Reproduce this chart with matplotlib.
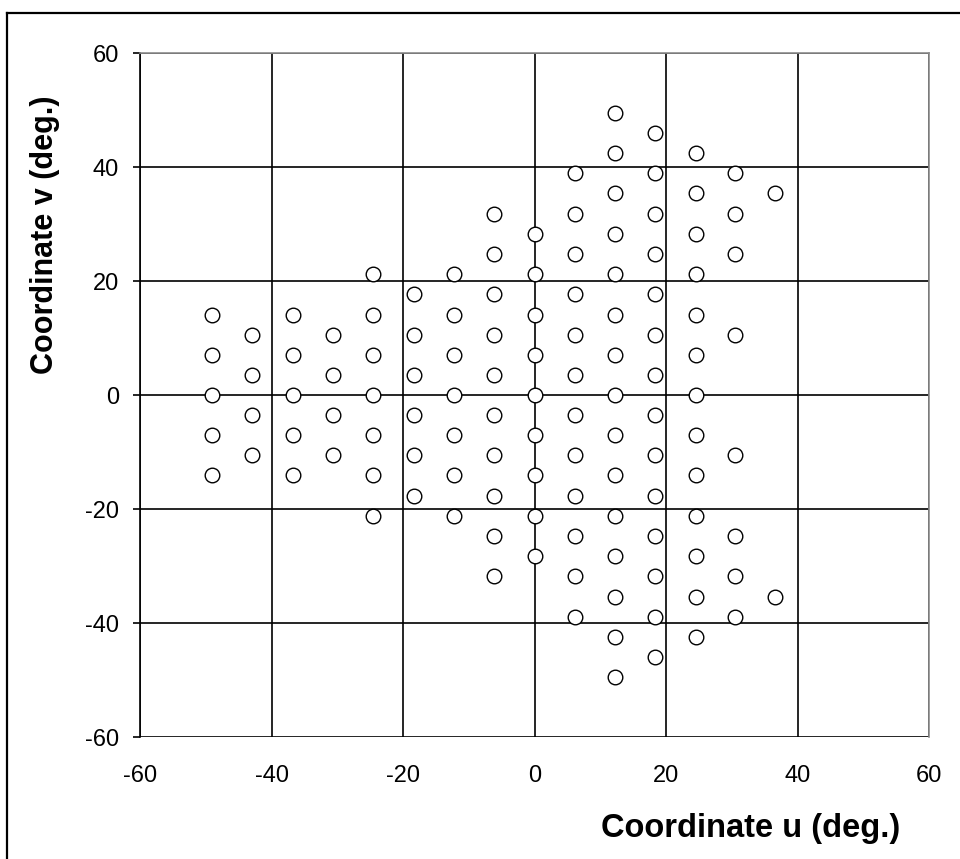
import matplotlib
matplotlib.use("Agg")
import matplotlib.pyplot as plt
from matplotlib.lines import Line2D

plt.rcParams['font.family'] = ['Liberation Sans', 'DejaVu Sans']
plt.rcParams['axes.unicode_minus'] = False

# u position of each column of sampling points, and the v values in that column
u_cols = [-49.0, -42.9, -36.8, -30.6, -24.5, -18.4, -12.3, -6.1,
          0.0, 6.1, 12.3, 18.4, 24.5, 30.5, 36.6]
v_cols = [
    [14.1, 7.1, 0.0, -7.1, -14.1],
    [10.6, 3.5, -3.5, -10.6],
    [14.1, 7.1, 0.0, -7.1, -14.1],
    [10.6, 3.5, -3.5, -10.6],
    [21.2, 14.1, 7.1, 0.0, -7.1, -14.1, -21.2],
    [17.7, 10.6, 3.5, -3.5, -10.6, -17.7],
    [21.2, 14.1, 7.1, 0.0, -7.1, -14.1, -21.2],
    [31.8, 24.7, 17.7, 10.6, 3.5, -3.5, -10.6, -17.7, -24.7, -31.8],
    [28.3, 21.2, 14.1, 7.1, 0.0, -7.1, -14.1, -21.2, -28.3],
    [38.9, 31.8, 24.7, 17.7, 10.6, 3.5, -3.5, -10.6, -17.7, -24.7, -31.8, -38.9],
    [49.5, 42.4, 35.4, 28.3, 21.2, 14.1, 7.1, 0.0, -7.1, -14.1, -21.2, -28.3,
     -35.4, -42.4, -49.5],
    [46.0, 38.9, 31.8, 24.7, 17.7, 10.6, 3.5, -3.5, -10.6, -17.7, -24.7, -31.8,
     -38.9, -46.0],
    [42.4, 35.4, 28.3, 21.2, 14.1, 7.1, 0.0, -7.1, -14.1, -21.2, -28.3, -35.4,
     -42.4],
    [38.9, 31.8, 24.7, 10.6, -10.6, -24.7, -31.8, -38.9],
    [35.4, -35.4],
]
ticks = [-60, -40, -20, 0, 20, 40, 60]

u = [uc for uc, vs in zip(u_cols, v_cols) for _ in vs]
v = [vv for vs in v_cols for vv in vs]

W, H = 960, 859
fig = plt.figure(figsize=(W / 100, H / 100), dpi=100)
ax = fig.add_axes([140 / W, 1 - 737 / H, 789 / W, 684 / H])

ax.plot(u, v, linestyle='none', marker='o', markersize=10.5,
        markerfacecolor='white', markeredgecolor='black',
        markeredgewidth=1.0, zorder=3)

ax.set_xlim(-60, 60)
ax.set_ylim(-60, 60)
ax.set_xticks(ticks)
ax.set_yticks(ticks)
ax.grid(True, color='black', linewidth=1.2, zorder=1)
ax.set_axisbelow(True)

for side in ['top', 'right']:
    ax.spines[side].set_color('#8c8c8c')
    ax.spines[side].set_linewidth(1.2)
ax.spines['bottom'].set_visible(False)
ax.spines['left'].set_linewidth(1.2)

ax.tick_params(axis='y', direction='out', length=5, width=1.2, pad=10,
               labelsize=17)
ax.tick_params(axis='x', length=0, pad=20, labelsize=17)

fig.text(45 / W, 1 - 235 / H, 'Coordinate v (deg.)', rotation=90,
         ha='center', va='center', fontsize=22, fontweight='bold')
fig.text(751 / W, 1 - 828 / H, 'Coordinate u (deg.)',
         ha='center', va='center', fontsize=23.5, fontweight='bold')

# outer chart frame, running off the right and bottom edges
fig.add_artist(Line2D([7 / W, 1.0], [1 - 13 / H] * 2, color='black',
                      linewidth=1.6, transform=fig.transFigure))
fig.add_artist(Line2D([7 / W] * 2, [0.0, 1 - 13 / H], color='black',
                      linewidth=1.6, transform=fig.transFigure))

fig.savefig('out.png', dpi=100)
